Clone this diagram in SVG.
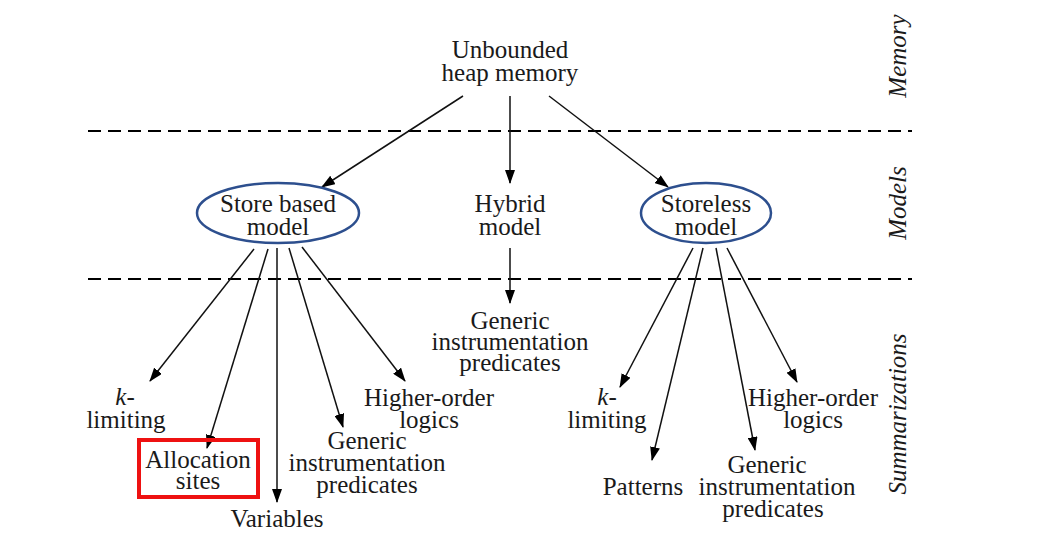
<svg xmlns="http://www.w3.org/2000/svg" width="1037" height="542" viewBox="0 0 1037 542">
<style>
text{font-family:"Liberation Serif","DejaVu Serif",serif;font-size:25px;fill:#1a1a1a;text-anchor:middle}
.it{font-style:italic}
.dash{stroke:#000;stroke-width:2;stroke-dasharray:13,7;fill:none}
.edge{stroke:#111;stroke-width:1.5;fill:none;marker-end:url(#ah)}
.ell{fill:none;stroke:#2d4f8e;stroke-width:2.5}
</style>
<defs>
<marker id="ah" viewBox="0 0 14 10" refX="13" refY="5" markerWidth="14" markerHeight="10" markerUnits="userSpaceOnUse" orient="auto">
<path d="M0,0 L14,5 L0,10 z" fill="#000"/>
</marker>
</defs>
<rect width="1037" height="542" fill="#fff"/>
<g id="layers">
<line class="dash" x1="88" y1="131" x2="912" y2="131"/>
<line class="dash" x1="88" y1="279" x2="912" y2="279"/>
<text class="it" transform="translate(906,56) rotate(-90)">Memory</text>
<text class="it" transform="translate(906,203) rotate(-90)">Models</text>
<text class="it" transform="translate(906,414) rotate(-90)">Summarizations</text>
</g>
<g id="connectors">
<line class="edge" x1="463" y1="96" x2="322" y2="187"/>
<line class="edge" x1="510" y1="96" x2="510" y2="183"/>
<line class="edge" x1="549" y1="96" x2="668" y2="187"/>
<line class="edge" x1="510" y1="248" x2="510" y2="303"/>
<line class="edge" x1="254" y1="249" x2="150" y2="381"/>
<line class="edge" x1="268" y1="249" x2="207" y2="448"/>
<line class="edge" x1="277" y1="248" x2="277" y2="502"/>
<line class="edge" x1="289" y1="248" x2="343" y2="427"/>
<line class="edge" x1="302" y1="247" x2="405" y2="381"/>
<line class="edge" x1="693" y1="248" x2="620" y2="387"/>
<line class="edge" x1="703" y1="248" x2="652" y2="460"/>
<line class="edge" x1="716" y1="248" x2="755" y2="450"/>
<line class="edge" x1="727" y1="248" x2="797" y2="382"/>
</g>
<g id="heap"><text x="510" y="58">Unbounded</text><text x="510" y="81">heap memory</text></g>
<g id="store-based"><ellipse class="ell" cx="278" cy="213" rx="81" ry="30"/><text x="278" y="212">Store based</text><text x="278" y="235">model</text></g>
<g id="hybrid"><text x="510" y="212">Hybrid</text><text x="510" y="235">model</text></g>
<g id="storeless"><ellipse class="ell" cx="706" cy="213" rx="65" ry="30"/><text x="706" y="212">Storeless</text><text x="706" y="235">model</text></g>
<g id="hybrid-generic"><text x="510" y="329">Generic</text><text x="510" y="350">instrumentation</text><text x="510" y="371">predicates</text></g>
<g id="sb-klimiting"><text x="125" y="405"><tspan class="it">k</tspan>-</text><text x="126" y="428">limiting</text></g>
<g id="sb-allocation"><rect x="139" y="440" width="119" height="57" fill="none" stroke="#ee1111" stroke-width="4"/><text x="198" y="468">Allocation</text><text x="198" y="489">sites</text></g>
<g id="sb-variables"><text x="277" y="527">Variables</text></g>
<g id="sb-generic"><text x="367" y="449">Generic</text><text x="367" y="471">instrumentation</text><text x="367" y="493">predicates</text></g>
<g id="sb-higher"><text x="429" y="406">Higher-order</text><text x="429" y="428">logics</text></g>
<g id="sl-klimiting"><text x="607" y="405"><tspan class="it">k</tspan>-</text><text x="607" y="428">limiting</text></g>
<g id="sl-patterns"><text x="643" y="495">Patterns</text></g>
<g id="sl-generic"><text x="767" y="473">Generic</text><text x="777" y="495">instrumentation</text><text x="773" y="517">predicates</text></g>
<g id="sl-higher"><text x="813" y="406">Higher-order</text><text x="813" y="428">logics</text></g>
</svg>
